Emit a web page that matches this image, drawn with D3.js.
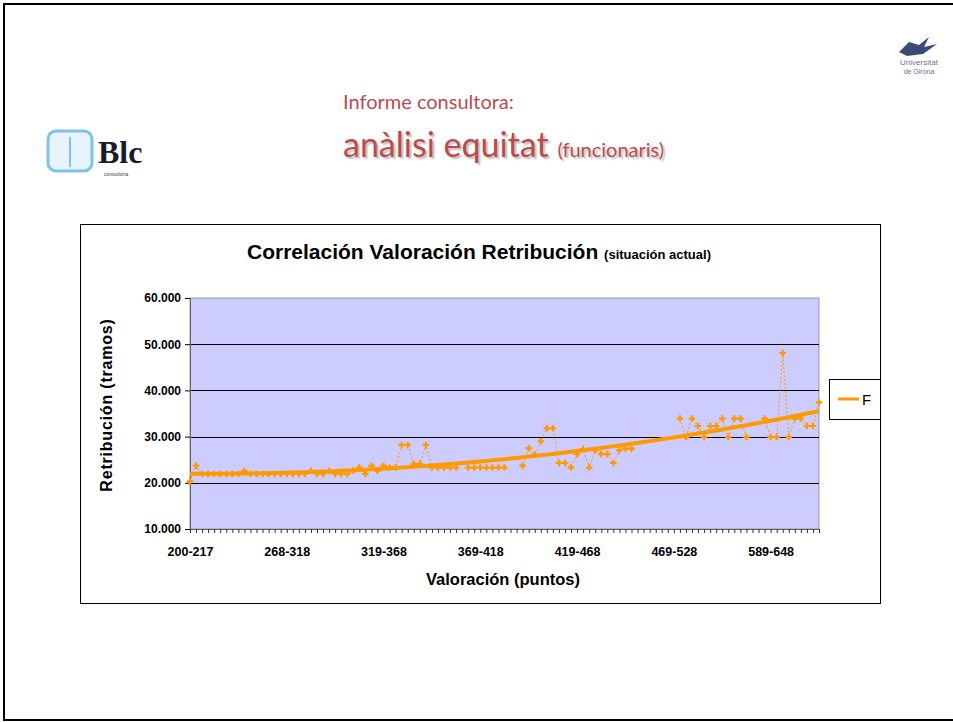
<!DOCTYPE html>
<html>
<head>
<meta charset="utf-8">
<script src="https://cdn.jsdelivr.net/npm/d3@7"></script>
<style>
  body { margin: 0; background: #fff; }
  text { font-family: Arial, "Liberation Sans", sans-serif; }
  .head { font-family: Lato, "Open Sans", sans-serif; fill: #bc4a4e; }
</style>
</head>
<body>
<svg id="slide" width="953" height="722"></svg>
<script>
// category labels shown on the axis (one every 16 categories)
const tickLabels = ["200-217", "268-318", "319-368", "369-418", "419-468", "469-528", "589-648"];
const labelEvery = 16;

// retribución per category, null = empty cell (gap in the line)
const values = [
  20300, 23700, 21900, 21900, 21900, 21900, 21900, 21900, 21900, 22600,
  21900, 21900, 21900, 21900, 21900, 21900, 21900, 21900, 21900, 21900,
  22600, 21900, 21900, 22600, 21900, 21900, 21900, 22600, 23300, 21900,
  23700, 22600, 23700, 23300, 23300, 28200, 28200, 24100, 24100, 28200,
  23300, 23300, 23300, 23300, 23300, null, 23300, 23300, 23300, 23300,
  23300, 23300, 23300, null, null, 23700, 27500, 26100, 29000, 31800,
  31800, 24300, 24300, 23300, 26200, 27300, 23300, 27000, 26200, 26200,
  24300, 27000, 27400, 27400, null, null, null, null, null, null,
  null, 33900, 29900, 33900, 32300, 29900, 32300, 32300, 33900, 29900,
  33900, 33900, 29900, null, null, 33900, 29900, 29900, 48100, 29900,
  33900, 33900, 32300, 32300, 37400
];
const yTicks = [10000, 20000, 30000, 40000, 50000, 60000];
const seriesName = "F";

const svg = d3.select("#slide");
const orange = "#ff9900";

// slide frame
svg.append("rect").attr("x", 4).attr("y", 4).attr("width", 960).attr("height", 716)
   .attr("fill", "none").attr("stroke", "#000").attr("stroke-width", 2);

// header texts
svg.append("text").attr("class", "head").attr("x", 343).attr("y", 109)
   .attr("font-size", 20).text("Informe consultora:");
const h2 = svg.append("text").attr("class", "head").attr("x", 343).attr("y", 157)
   .style("text-shadow", "2px 2px 2px #bbb");
h2.append("tspan").attr("font-size", 34).text("anàlisi equitat ");
h2.append("tspan").attr("font-size", 20).text("(funcionaris)");

// Blc logo (rough)
let logo = svg.append("g").attr("transform", "translate(46,127)");
logo.append("rect").attr("x", 2).attr("y", 4).attr("width", 44).attr("height", 40).attr("rx", 8)
    .attr("fill", "#e6f3fb").attr("stroke", "#7ec3e8").attr("stroke-width", 3);
logo.append("line").attr("x1", 24).attr("x2", 24).attr("y1", 10).attr("y2", 40).attr("stroke", "#7ec3e8").attr("stroke-width", 2);
logo.append("text").attr("x", 52).attr("y", 36).attr("font-size", 32).attr("font-weight", "bold")
    .style("font-family", "'Liberation Serif', 'DejaVu Serif', serif").attr("fill", "#1a1a2a").text("Blc");
logo.append("text").attr("x", 58).attr("y", 49).attr("font-size", 5).attr("fill", "#444").text("consultoria");

// Universitat de Girona logo (rough)
let ug = svg.append("g").attr("transform", "translate(895,36)");
ug.append("path").attr("d", "M4,16 L14,6 L24,9 L34,1 L29,11 L42,8 L28,18 L12,20 Z").attr("fill", "#3b4a7a");
ug.append("text").attr("x", 24).attr("y", 29).attr("text-anchor", "middle").attr("font-size", 8).attr("fill", "#6a6f9a").text("Universitat");
ug.append("text").attr("x", 24).attr("y", 38).attr("text-anchor", "middle").attr("font-size", 7).attr("fill", "#6a6f9a").text("de Girona");

// chart frame
svg.append("rect").attr("x", 80.5).attr("y", 224.5).attr("width", 800).attr("height", 379)
   .attr("fill", "#fff").attr("stroke", "#000").attr("stroke-width", 1);

// title
const title = svg.append("text").attr("x", 479).attr("y", 259).attr("text-anchor", "middle")
   .attr("font-weight", "bold");
title.append("tspan").attr("font-size", 21).text("Correlación Valoración Retribución ");
title.append("tspan").attr("font-size", 13).text("(situación actual)");

// plot area
var margins = {top: 298, left: 190, right: 134, bottom: 193};
var chartWidth = 953 - margins.left - margins.right;
var chartHeight = 722 - margins.top - margins.bottom;

const idx = d3.range(values.length);
var scaleX = d3.scalePoint().domain(idx).range([0, chartWidth]);
var scaleY = d3.scaleLinear().domain([10000, 60000]).range([chartHeight, 0]);
const esFormat = d3.formatLocale({decimal: ",", thousands: ".", grouping: [3], currency: ["", "€"]}).format(",.0f");

let chartArea = svg.append("g").attr("transform", `translate(${margins.left},${margins.top})`);
chartArea.append("rect").attr("width", chartWidth).attr("height", chartHeight)
   .attr("fill", "#ccccff").attr("stroke", "#999").attr("stroke-width", 1);

// horizontal gridlines
chartArea.append("g").selectAll("line").data(yTicks.slice(1, -1)).join("line")
   .attr("x1", 0).attr("x2", chartWidth)
   .attr("y1", d => Math.round(scaleY(d)) + 0.5).attr("y2", d => Math.round(scaleY(d)) + 0.5)
   .attr("stroke", "#000").attr("stroke-width", 1);

// y axis
let leftAxis = d3.axisLeft(scaleY).tickValues(yTicks).tickSize(5).tickPadding(4).tickFormat(esFormat);
let gy = chartArea.append("g").call(leftAxis);
gy.select(".domain").attr("stroke", "#666");
gy.selectAll("text").attr("font-size", 12).attr("font-weight", "bold").attr("font-family", "Arial, sans-serif");

// x axis, one tick per category, labels every 16
let bottomAxis = d3.axisBottom(scaleX).tickSize(4).tickPadding(14)
   .tickFormat(d => d % labelEvery === 0 ? (tickLabels[d / labelEvery] || "") : "");
let gx = chartArea.append("g").attr("transform", `translate(0,${chartHeight})`).call(bottomAxis);
gx.select(".domain").attr("stroke", "#666");
gx.selectAll("line").attr("stroke", "#333");
gx.selectAll("text").attr("font-size", 12.5).attr("font-weight", "bold").attr("font-family", "Arial, sans-serif");

// polynomial (order 2) trendline, least squares from the data
const pts = idx.filter(i => values[i] != null).map(i => [i, values[i]]);
function quadFit(p) {
    let s = [0, 0, 0, 0, 0], t = [0, 0, 0];
    p.forEach(([x, y]) => {
        for (let k = 0; k < 5; k++) s[k] += Math.pow(x, k);
        for (let k = 0; k < 3; k++) t[k] += y * Math.pow(x, k);
    });
    let A = [[s[0], s[1], s[2], t[0]], [s[1], s[2], s[3], t[1]], [s[2], s[3], s[4], t[2]]];
    for (let c = 0; c < 3; c++) {
        for (let r = c + 1; r < 3; r++) {
            let f = A[r][c] / A[c][c];
            for (let k = c; k < 4; k++) A[r][k] -= f * A[c][k];
        }
    }
    let b = [0, 0, 0];
    for (let r = 2; r >= 0; r--) {
        let v = A[r][3];
        for (let k = r + 1; k < 3; k++) v -= A[r][k] * b[k];
        b[r] = v / A[r][r];
    }
    return x => b[0] + b[1] * x + b[2] * x * x;
}
const trend = quadFit(pts);

chartArea.append("path").datum(idx)
   .attr("fill", "none").attr("stroke", orange).attr("stroke-width", 4)
   .attr("d", d3.line().x(i => scaleX(i)).y(i => scaleY(trend(i))));

// data line, dotted with gaps
chartArea.append("path").datum(idx)
   .attr("fill", "none").attr("stroke", orange).attr("stroke-width", 1).attr("stroke-dasharray", "2,2")
   .attr("d", d3.line().defined(i => values[i] != null).x(i => scaleX(i)).y(i => scaleY(values[i])));

chartArea.selectAll(".pt").data(pts).join("path").attr("class", "pt")
   .attr("transform", d => `translate(${scaleX(d[0])},${scaleY(d[1])})`)
   .attr("d", d3.symbol(d3.symbolCross, 24))
   .attr("fill", orange);

// axis titles
svg.append("text").attr("transform", "translate(112,405) rotate(-90)").attr("text-anchor", "middle")
   .attr("font-size", 16).attr("font-weight", "bold").attr("letter-spacing", 0.8).text("Retribución (tramos)");
svg.append("text").attr("x", 503).attr("y", 585).attr("text-anchor", "middle")
   .attr("font-size", 16.5).attr("font-weight", "bold").text("Valoración (puntos)");

// legend
let lg = svg.append("g");
lg.append("rect").attr("x", 829.5).attr("y", 379.5).attr("width", 51).attr("height", 40)
  .attr("fill", "#fff").attr("stroke", "#000");
lg.append("line").attr("x1", 838).attr("x2", 859).attr("y1", 399).attr("y2", 399)
  .attr("stroke", orange).attr("stroke-width", 3);
lg.append("text").attr("x", 862).attr("y", 405).attr("font-size", 15).text(seriesName);
</script>
</body>
</html>
